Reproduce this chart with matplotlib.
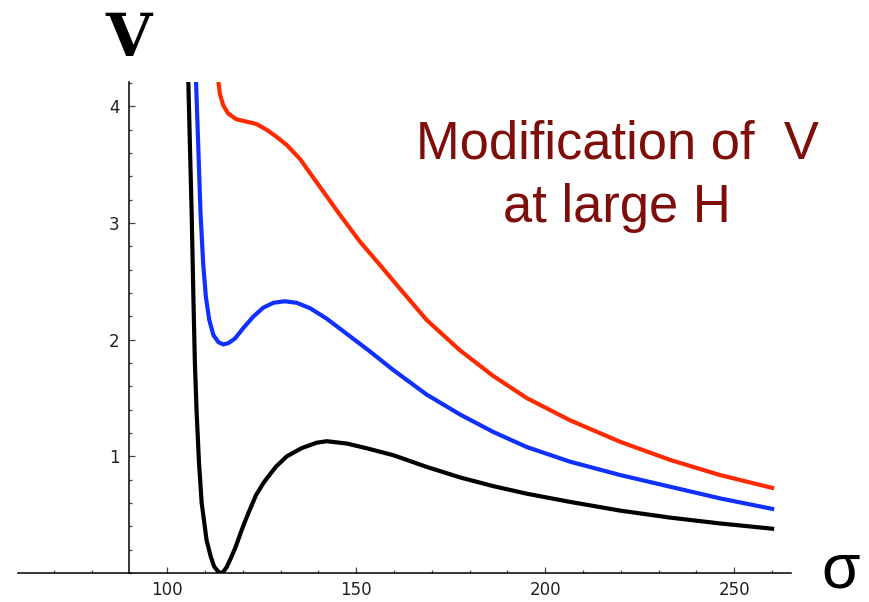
import matplotlib

matplotlib.use("Agg")
import matplotlib.pyplot as plt
from matplotlib.ticker import FixedLocator, MultipleLocator

# values (sigma, V)
black_sigma = [105.4, 105.56, 106.0, 106.45, 106.9, 107.3, 107.77, 108.4, 109.1, 110.4,
               111.5, 112.4, 113.5, 114.1, 114.8, 115.7, 116.8, 118.1, 119.7, 121.4,
               123.5, 125.6, 128.7, 131.6, 135.5, 139.5, 142.2, 147.5, 152.7, 159.8,
               168.6, 177.4, 186.2, 195.1, 206.5, 219.8, 233.0, 246.2, 260.0]
black_v = [4.40, 4.22, 3.65, 3.08, 2.37, 1.80, 1.37, 0.94, 0.60, 0.28,
           0.14, 0.055, 0.011, 0.0, 0.01, 0.05, 0.126, 0.225, 0.37, 0.51,
           0.67, 0.78, 0.91, 1.00, 1.07, 1.117, 1.13, 1.11, 1.07, 1.01,
           0.91, 0.82, 0.745, 0.68, 0.61, 0.535, 0.475, 0.425, 0.38]

blue_sigma = [107.4, 107.6, 108.2, 108.8, 109.5, 110.2, 111.1, 112.2, 113.5, 114.8,
              116.1, 117.9, 120.1, 122.8, 125.4, 128.1, 131.1, 134.2, 137.8, 142.2,
              147.5, 153.6, 159.8, 168.6, 177.4, 186.2, 195.1, 206.5, 219.8, 233.0,
              246.2, 260.0]
blue_v = [4.40, 4.22, 3.65, 3.08, 2.65, 2.37, 2.17, 2.04, 1.98, 1.96,
          1.97, 2.01, 2.10, 2.20, 2.275, 2.317, 2.33, 2.317, 2.27, 2.18,
          2.05, 1.90, 1.74, 1.53, 1.36, 1.21, 1.08, 0.955, 0.84, 0.74,
          0.64, 0.55]

red_sigma = [113.3, 113.5, 113.9, 114.8, 116.1, 118.3, 121.0, 123.6, 126.3, 128.9,
             131.6, 135.1, 140.4, 145.7, 151.0, 156.3, 160.7, 168.6, 177.4, 186.2,
             195.1, 206.5, 219.8, 233.0, 246.2, 260.0]
red_v = [4.40, 4.22, 4.11, 4.01, 3.94, 3.89, 3.87, 3.85, 3.80, 3.74,
         3.67, 3.55, 3.31, 3.07, 2.84, 2.64, 2.47, 2.17, 1.91, 1.69,
         1.50, 1.31, 1.125, 0.97, 0.84, 0.73]

x_major = [100, 150, 200, 250]
x_minor = [70, 80, 110, 120, 130, 140, 160, 170, 180, 190, 210, 220, 230, 240, 260]
y_major = [1, 2, 3, 4]

W, H = 869, 602
fig = plt.figure(figsize=(W / 100, H / 100), dpi=100)
ax = fig.add_axes([17.6 / W, (H - 573) / H, (791 - 17.6) / W, (573 - 82) / H])

ax.plot(black_sigma, black_v, color="black", lw=3, solid_joinstyle="round")
ax.plot(blue_sigma, blue_v, color="#1030ff", lw=3, solid_joinstyle="round")
ax.plot(red_sigma, red_v, color="#ff2a00", lw=3, solid_joinstyle="round")

ax.set_xlim(60.4, 265)
ax.set_ylim(0, 4.21)

for side in ["top", "right"]:
    ax.spines[side].set_visible(False)
ax.spines["left"].set_position(("data", 90))
ax.spines["left"].set_linewidth(1.1)
ax.spines["bottom"].set_linewidth(1.1)

ax.xaxis.set_major_locator(FixedLocator(x_major))
ax.xaxis.set_minor_locator(FixedLocator(x_minor))
ax.yaxis.set_major_locator(FixedLocator(y_major))
ax.yaxis.set_minor_locator(MultipleLocator(0.2))

ax.tick_params(which="both", direction="in", color="#444444", width=0.9,
               labelsize=12, labelcolor="#222222")
ax.tick_params(which="major", length=4)
ax.tick_params(which="minor", length=2.2)
ax.tick_params(axis="x", pad=6)
ax.tick_params(axis="y", pad=7)

fig.text(129 / W, 1 - 56 / H, "V", family="DejaVu Serif", weight="bold",
         fontsize=43, ha="center", va="baseline")
fig.text(841 / W, 1 - 571 / H, "σ", family="Liberation Sans",
         fontsize=45, ha="center", va="center")

fig.text(617 / W, 1 - 158.3 / H, "Modification of  V", family="Liberation Sans",
         fontsize=37.8, color="#7d0e0a", ha="center", va="baseline")
fig.text(617 / W, 1 - 221.7 / H, "at large H", family="Liberation Sans",
         fontsize=37.8, color="#7d0e0a", ha="center", va="baseline")

fig.savefig("out.png", dpi=100)
